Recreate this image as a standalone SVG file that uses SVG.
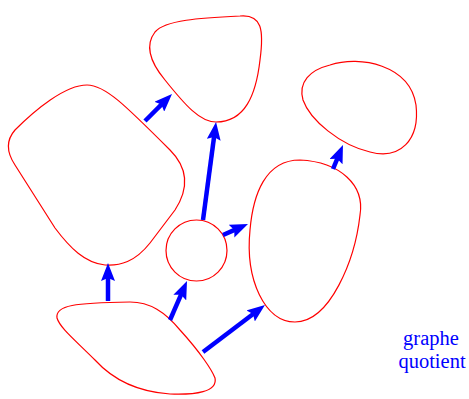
<svg xmlns="http://www.w3.org/2000/svg" width="469" height="399" viewBox="0 0 469 399">
<style>
.blob{fill:none;stroke:#ff0000;stroke-width:1.2}
.arr{stroke:#0000ff;stroke-width:4.5;fill:none;marker-end:url(#ah)}
.lbl{font-family:"Liberation Serif",serif;font-size:20.5px;fill:#0000ff;text-anchor:middle}
</style>
<defs>
<marker id="ah" markerUnits="userSpaceOnUse" markerWidth="18" markerHeight="14" refX="4" refY="7" orient="auto" viewBox="0 0 18 14">
<path d="M0,0 L18,7 L0,14 L3,7 z" fill="#0000ff"/>
</marker>
</defs>
<rect width="469" height="399" fill="#ffffff"/>
<g id="nodeA"><path class="blob" d="M216,122 C200,122 185,105 165,80 C150,62 145,45 155,32 C165,20 200,18 240,16 C262,14 264,30 260,60 C256,95 245,122 216,122 Z"/></g>
<g id="nodeB"><path class="blob" d="M15,130 C35,110 65,85 87,85 C105,85 125,105 170,150 C190,170 188,190 175,210 L150,243 C135,262 120,266 105,265 C85,263 70,248 55,228 L15,165 C5,150 8,138 15,130 Z"/></g>
<g id="nodeC"><path class="blob" d="M330,65 C360,55 410,65 416,105 C420,140 400,160 370,152 C340,145 310,120 303,100 C298,82 310,70 330,65 Z"/></g>
<g id="nodeD"><path class="blob" d="M300,160 C340,162 365,185 360,215 C355,260 330,322 295,322 C265,322 245,280 250,230 C253,195 265,160 300,160 Z"/></g>
<g id="nodeCircle"><circle class="blob" cx="196.5" cy="250.5" r="30.5"/></g>
<g id="nodeE"><path class="blob" d="M57,318 C55,305 75,303 130,302 C150,302 165,312 180,330 C200,352 212,370 215,378 C218,392 195,395 170,394 C140,392 115,382 95,360 C75,340 60,328 57,318 Z"/></g>
<g id="connectors">
<line class="arr" x1="108" y1="301" x2="108" y2="277"/>
<line class="arr" x1="170" y1="320" x2="181.4" y2="293.9"/>
<line class="arr" x1="203" y1="352" x2="253.8" y2="313.5"/>
<line class="arr" x1="203" y1="220" x2="214.2" y2="135.9"/>
<line class="arr" x1="223" y1="235" x2="235.2" y2="229.6"/>
<line class="arr" x1="145" y1="121" x2="162.1" y2="103.9"/>
<line class="arr" x1="333" y1="169" x2="337.6" y2="157.9"/>
</g>
<g id="label">
<text class="lbl" x="431" y="345">graphe</text>
<text class="lbl" x="432" y="368">quotient</text>
</g>
</svg>
